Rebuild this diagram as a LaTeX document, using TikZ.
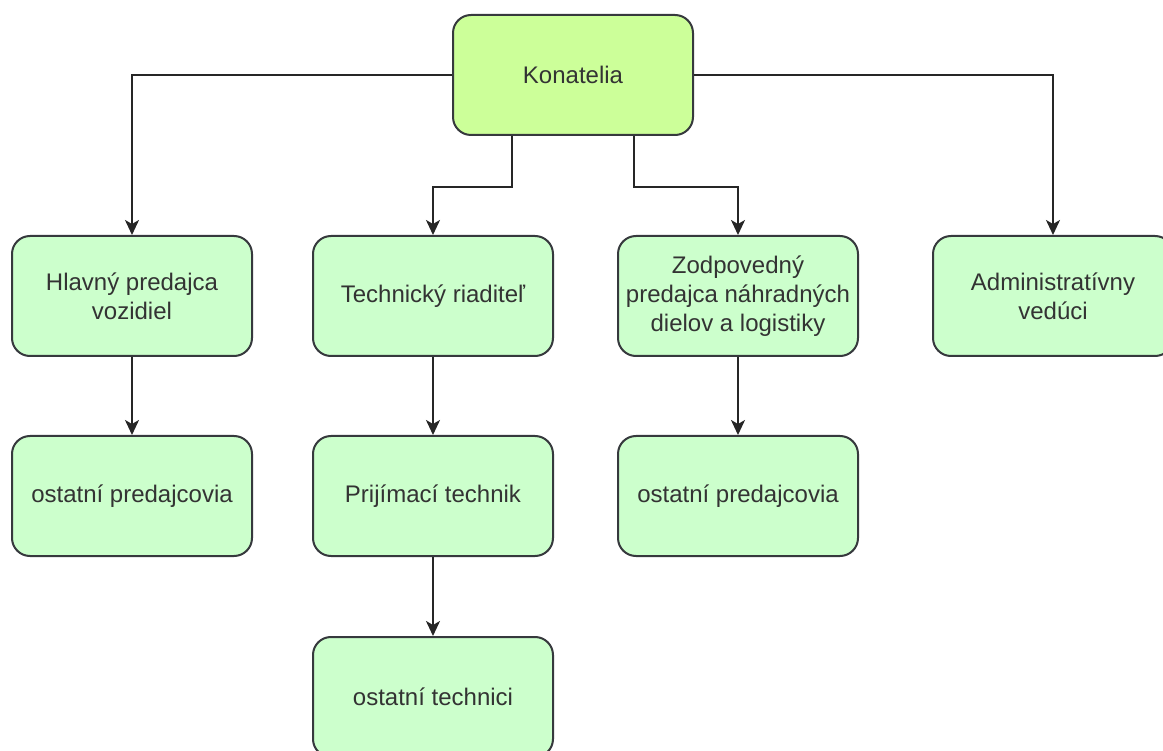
\documentclass[tikz,border=0pt]{standalone}
\usepackage{fontspec}
\setmainfont{Liberation Sans}
\usetikzlibrary{arrows.meta}
\definecolor{boxline}{HTML}{36393D}
\definecolor{txt}{HTML}{333333}
\definecolor{topfill}{HTML}{CCFF99}
\definecolor{boxfill}{HTML}{CCFFCC}
\tikzset{
  orgbox/.style={draw=boxline, line width=2pt, fill=boxfill, rounded corners=18pt,
    minimum width=240pt, minimum height=120pt, inner sep=0pt, align=center,
    text=txt, font=\fontsize{24}{28.8}\selectfont},
  topbox/.style={orgbox, fill=topfill},
  arr/.style={draw=black!85, line width=2pt, -{Stealth[length=15pt,width=14pt,inset=4pt]}}
}
\begin{document}
\begin{tikzpicture}[x=1pt,y=-1pt]
\useasboundingbox (0,0) rectangle (1163,751);
\clip (0,0) rectangle (1163,751);
\node[topbox] (K) at (573,75) {Konatelia};
\node[orgbox] (H1) at (132,296) {Hlavný predajca\\vozidiel};
\node[orgbox] (T1) at (433,296) {Technický riaditeľ};
\node[orgbox] (Z1) at (738,296) {Zodpovedný\\predajca náhradných\\dielov a logistiky};
\node[orgbox] (A1) at (1053,296) {Administratívny\\vedúci};
\node[orgbox] (H2) at (132,496) {ostatní predajcovia};
\node[orgbox] (T2) at (433,496) {Prijímací technik};
\node[orgbox] (Z2) at (738,496) {ostatní predajcovia};
\node[orgbox] (T3) at (433,697) {ostatní technici};
\coordinate (kl) at ([xshift=60pt]K.south west);
\coordinate (kr) at ([xshift=-60pt]K.south east);
\draw[arr] (K.west) -| (H1.north);
\draw[arr] (K.east) -| (A1.north);
\draw[arr] (kl) -- ++(0,51) -| (T1.north);
\draw[arr] (kr) -- ++(0,51) -| (Z1.north);
\draw[arr] (H1.south) -- (H2.north);
\draw[arr] (T1.south) -- (T2.north);
\draw[arr] (Z1.south) -- (Z2.north);
\draw[arr] (T2.south) -- (T3.north);
\end{tikzpicture}
\end{document}
